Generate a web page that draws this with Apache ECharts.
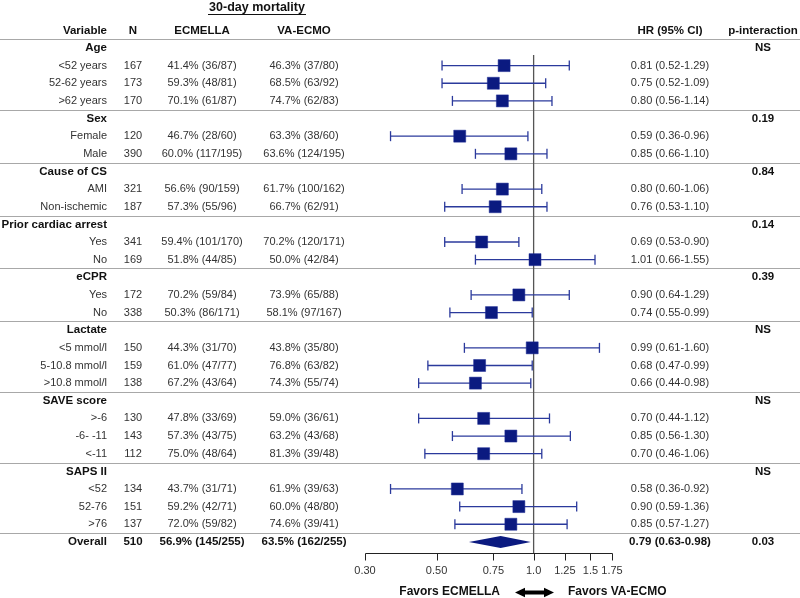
<!DOCTYPE html>
<html><head><meta charset="utf-8">
<script src="https://cdn.jsdelivr.net/npm/echarts@6/dist/echarts.min.js"></script>
<style>html,body{margin:0;padding:0;background:#fff}#c{width:800px;height:598px}</style>
</head><body><div id="c"></div>
<script>
const groupNames = ['Age','Sex','Cause of CS','Prior cardiac arrest','eCPR','Lactate','SAVE score','SAPS II'];
const groupP = ['NS','0.19','0.84','0.14','0.39','NS','NS','NS'];
const subgroups = ['<52 years','52-62 years','>62 years','Female','Male','AMI','Non-ischemic','Yes','No','Yes','No',
  '<5 mmol/l','5-10.8 mmol/l','>10.8 mmol/l','>-6','-6- -11','<-11','<52','52-76','>76'];
const subGroupIdx = [0,0,0,1,1,2,2,3,3,4,4,5,5,5,6,6,6,7,7,7];
const nValues = [167,173,170,120,390,321,187,341,169,172,338,150,159,138,130,143,112,134,151,137];
const ecmellaText = ['41.4% (36/87)','59.3% (48/81)','70.1% (61/87)','46.7% (28/60)','60.0% (117/195)',
  '56.6% (90/159)','57.3% (55/96)','59.4% (101/170)','51.8% (44/85)','70.2% (59/84)','50.3% (86/171)',
  '44.3% (31/70)','61.0% (47/77)','67.2% (43/64)','47.8% (33/69)','57.3% (43/75)','75.0% (48/64)',
  '43.7% (31/71)','59.2% (42/71)','72.0% (59/82)'];
const vaecmoText = ['46.3% (37/80)','68.5% (63/92)','74.7% (62/83)','63.3% (38/60)','63.6% (124/195)',
  '61.7% (100/162)','66.7% (62/91)','70.2% (120/171)','50.0% (42/84)','73.9% (65/88)','58.1% (97/167)',
  '43.8% (35/80)','76.8% (63/82)','74.3% (55/74)','59.0% (36/61)','63.2% (43/68)','81.3% (39/48)',
  '61.9% (39/63)','60.0% (48/80)','74.6% (39/41)'];
const hr     = [0.81,0.75,0.80,0.59,0.85,0.80,0.76,0.69,1.01,0.90,0.74,0.99,0.68,0.66,0.70,0.85,0.70,0.58,0.90,0.85];
const hrLow  = [0.52,0.52,0.56,0.36,0.66,0.60,0.53,0.53,0.66,0.64,0.55,0.61,0.47,0.44,0.44,0.56,0.46,0.36,0.59,0.57];
const hrHigh = [1.29,1.09,1.14,0.96,1.10,1.06,1.10,0.90,1.55,1.29,0.99,1.60,0.99,0.98,1.12,1.30,1.06,0.92,1.36,1.27];
const overallN = 510;
const overallEcmella = '56.9% (145/255)';
const overallVa = '63.5% (162/255)';
const overallHr = 0.79, overallLow = 0.63, overallHigh = 0.98;
const overallP = '0.03';
const xTicks = [0.30,0.50,0.75,1.0,1.25,1.5,1.75];
const xTickLabels = ['0.30','0.50','0.75','1.0','1.25','1.5','1.75'];

// build row layout
const rows = [];
const seps = [-0.5];
let r = 0;
groupNames.forEach((g, gi) => {
  if (gi > 0) seps.push(r - 0.5);
  rows.push({type:'group', r: r, label: g, p: groupP[gi]});
  r++;
  subgroups.forEach((s, si) => {
    if (subGroupIdx[si] === gi) { rows.push({type:'sub', r: r, i: si}); r++; }
  });
});
seps.push(r - 0.5);
const overallRow = r;
rows.push({type:'overall', r: overallRow});
rows.push({type:'header', r: -1});

const fmt = v => v.toFixed(2);
const hrText = (a,b,c) => fmt(a) + ' (' + fmt(b) + '-' + fmt(c) + ')';

const FF = '"Liberation Sans", Arial, sans-serif';
const fReg = '11px ' + FF;
const fBold = 'bold 11.5px ' + FF;
const cText = '#333';
const cHead = '#111';
const Y_MAX = 28.63;

function txt(x, y, s, font, fill, align) {
  return {type:'text', style:{x:x, y:y, text:s, font:font, fill:fill,
    textAlign:align, textVerticalAlign:'middle', align:align, verticalAlign:'middle'}};
}

const COL = {variable:107, n:133, ecm:202, va:304, hr:670, p:763};

const ciData = [], sqData = [];
subgroups.forEach((s, si) => {
  const row = rows.find(o => o.type === 'sub' && o.i === si);
  ciData.push([hrLow[si], hrHigh[si], row.r]);
  sqData.push([hr[si], row.r]);
});

const chart = echarts.init(document.getElementById('c'), null, {renderer:'canvas'});
chart.setOption({
  animation: false,
  backgroundColor: '#fff',
  grid: {left: 365, width: 247, top: 0, height: 553, containLabel: false, outerBoundsMode: 'none'},
  xAxis: {type:'log', logBase:10, min:0.3, max:1.75, position:'bottom',
    axisLine:{show:false}, axisTick:{show:false}, axisLabel:{show:false}, splitLine:{show:false}},
  yAxis: {type:'value', inverse:true, min:-2.72, max:Y_MAX, show:false},
  graphic: [
    {type:'text', x:257, y:8, style:{text:'30-day mortality', font:'bold 12.5px '+FF, fill:'#111',
      textAlign:'center', textVerticalAlign:'middle', align:'center', verticalAlign:'middle'}},
    {type:'line', shape:{x1:208, y1:14.5, x2:306, y2:14.5}, style:{stroke:'#111', lineWidth:1}},
    {type:'text', x:500, y:592, style:{text:'Favors ECMELLA', font:'bold 12px '+FF, fill:'#111',
      textAlign:'right', textVerticalAlign:'middle', align:'right', verticalAlign:'middle'}},
    {type:'text', x:568, y:592, style:{text:'Favors VA-ECMO', font:'bold 12px '+FF, fill:'#111',
      textAlign:'left', textVerticalAlign:'middle', align:'left', verticalAlign:'middle'}},
    {type:'polygon', shape:{points:[[515,592.5],[525,587.8],[525,590.5],[544,590.5],[544,587.8],[554,592.5],
      [544,597.2],[544,594.5],[525,594.5],[525,597.2]]}, style:{fill:'#000'}}
  ],
  series: [
    { // separators
      type:'custom', clip:false, silent:true, z:1,
      data: seps.map(v => [1, v]),
      renderItem: (params, api) => {
        const y = Math.round(api.coord([1, api.value(1)])[1]) + 0.5;
        return {type:'line', shape:{x1:0, y1:y, x2:800, y2:y}, style:{stroke:'#a8a8a8', lineWidth:1}};
      }
    },
    { // reference line at HR = 1
      type:'custom', clip:false, silent:true, z:2,
      data: [[1, 0.4, Y_MAX]],
      renderItem: (params, api) => {
        const p1 = api.coord([api.value(0), api.value(1)]);
        const p2 = api.coord([api.value(0), api.value(2)]);
        return {type:'line', shape:{x1:p1[0], y1:p1[1], x2:p2[0], y2:p2[1]}, style:{stroke:'#555', lineWidth:1.3}};
      }
    },
    { // confidence intervals
      type:'custom', clip:false, silent:true, z:3,
      data: ciData,
      renderItem: (params, api) => {
        const a = api.coord([api.value(0), api.value(2)]);
        const b = api.coord([api.value(1), api.value(2)]);
        const st = {stroke:'#2b3a9c', lineWidth:1.3};
        return {type:'group', children:[
          {type:'line', shape:{x1:a[0], y1:a[1], x2:b[0], y2:b[1]}, style:st},
          {type:'line', shape:{x1:a[0], y1:a[1]-5, x2:a[0], y2:a[1]+5}, style:st},
          {type:'line', shape:{x1:b[0], y1:b[1]-5, x2:b[0], y2:b[1]+5}, style:st}
        ]};
      }
    },
    { // point estimates
      type:'scatter', symbol:'rect', symbolSize:12, z:4, silent:true,
      itemStyle:{color:'#0b1a80', opacity:1, borderColor:'#1e2d95', borderWidth:0.5},
      data: sqData
    },
    { // overall diamond
      type:'custom', clip:false, silent:true, z:4,
      data: [[overallLow, overallHr, overallHigh, overallRow]],
      renderItem: (params, api) => {
        const rr = api.value(3);
        const l = api.coord([api.value(0), rr]);
        const m = api.coord([api.value(1), rr]);
        const h = api.coord([api.value(2), rr]);
        return {type:'polygon', shape:{points:[[l[0], l[1]],[m[0], m[1]-6],[h[0], h[1]],[m[0], m[1]+6]]},
          style:{fill:'#0b1a80'}};
      }
    },
    { // x axis line, ticks + labels (log scale)
      type:'custom', clip:false, silent:true, z:5,
      data: xTicks.map((v, i) => [v, i]),
      renderItem: (params, api) => {
        const p = api.coord([api.value(0), Y_MAX]);
        const x = Math.round(p[0]) + 0.5;
        const y = Math.round(p[1]) + 0.5;
        const ch = [
          {type:'line', shape:{x1:x, y1:y, x2:x, y2:y+7}, style:{stroke:'#222', lineWidth:1}},
          txt(p[0], p[1]+18, xTickLabels[api.value(1)], fReg, cText, 'center')
        ];
        if (api.value(1) === 0) {
          const e = api.coord([xTicks[xTicks.length-1], Y_MAX]);
          ch.push({type:'line', shape:{x1:x, y1:y, x2:Math.round(e[0])+0.5, y2:y}, style:{stroke:'#222', lineWidth:1}});
        }
        return {type:'group', children: ch};
      }
    },
    { // table text
      type:'custom', clip:false, silent:true, z:6,
      data: rows.map((o, i) => [1, o.r, i]),
      renderItem: (params, api) => {
        const o = rows[api.value(2)];
        const y = api.coord([1, o.r])[1];
        const ch = [];
        if (o.type === 'header') {
          ch.push(txt(COL.variable, y, 'Variable', fBold, cHead, 'right'));
          ch.push(txt(COL.n, y, 'N', fBold, cHead, 'center'));
          ch.push(txt(COL.ecm, y, 'ECMELLA', fBold, cHead, 'center'));
          ch.push(txt(COL.va, y, 'VA-ECMO', fBold, cHead, 'center'));
          ch.push(txt(COL.hr, y, 'HR (95% CI)', fBold, cHead, 'center'));
          ch.push(txt(COL.p, y, 'p-interaction', fBold, cHead, 'center'));
        } else if (o.type === 'group') {
          ch.push(txt(COL.variable, y, o.label, fBold, cHead, 'right'));
          ch.push(txt(COL.p, y, o.p, fBold, cHead, 'center'));
        } else if (o.type === 'sub') {
          const i = o.i;
          ch.push(txt(COL.variable, y, subgroups[i], fReg, cText, 'right'));
          ch.push(txt(COL.n, y, String(nValues[i]), fReg, cText, 'center'));
          ch.push(txt(COL.ecm, y, ecmellaText[i], fReg, cText, 'center'));
          ch.push(txt(COL.va, y, vaecmoText[i], fReg, cText, 'center'));
          ch.push(txt(COL.hr, y, hrText(hr[i], hrLow[i], hrHigh[i]), fReg, cText, 'center'));
        } else {
          ch.push(txt(COL.variable, y, 'Overall', fBold, cHead, 'right'));
          ch.push(txt(COL.n, y, String(overallN), fBold, cHead, 'center'));
          ch.push(txt(COL.ecm, y, overallEcmella, fBold, cHead, 'center'));
          ch.push(txt(COL.va, y, overallVa, fBold, cHead, 'center'));
          ch.push(txt(COL.hr, y, hrText(overallHr, overallLow, overallHigh), fBold, cHead, 'center'));
          ch.push(txt(COL.p, y, overallP, fBold, cHead, 'center'));
        }
        return {type:'group', children: ch};
      }
    }
  ]
});
</script></body></html>
